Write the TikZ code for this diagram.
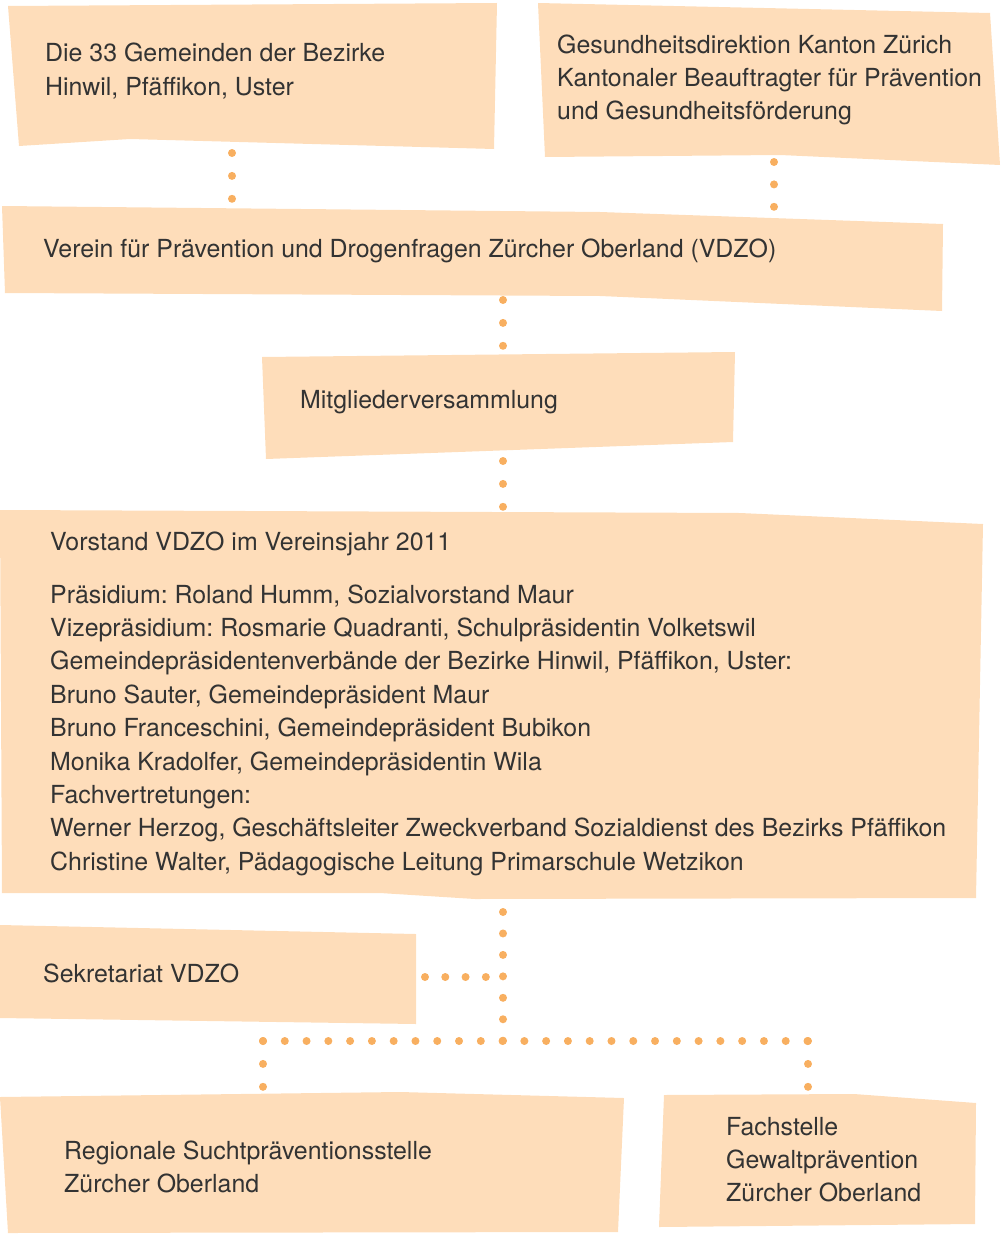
\documentclass[tikz,border=0pt]{standalone}
\usepackage{fontspec}
\setmainfont{TeX Gyre Heros}
\definecolor{boxfill}{HTML}{FEDDBA}
\definecolor{dotc}{HTML}{F8AF60}
\definecolor{txt}{HTML}{333333}
\begin{document}
\frenchspacing
\begin{tikzpicture}[x=1pt,y=-1pt,
  box/.style={fill=boxfill},
  lbl/.style={anchor=base west, inner sep=0pt, text=txt, font=\fontsize{24.9}{33.4}\selectfont, align=left},
  dots/.style={draw=dotc, line width=8pt, line cap=round, dash pattern=on 0pt off #1},
]
\useasboundingbox (0,0) rectangle (1002,1236);
% boxes
\fill[box] (8,6) -- (497,3) -- (494,149) -- (130,139) -- (19,146) -- cycle;
\fill[box] (538,3) -- (990,13) -- (1000,165) -- (780,155) -- (545,157) -- cycle;
\fill[box] (2,206) -- (600,212) -- (943,224) -- (942,311) -- (600,296) -- (5,293) -- cycle;
\fill[box] (262,357) -- (735,352) -- (733,442) -- (266,459) -- cycle;
\fill[box] (0,510) -- (740,513) -- (983,524) -- (976,898) -- (475,899) -- (380,893) -- (2,893) -- cycle;
\fill[box] (0,925) -- (416,934) -- (416,1024) -- (0,1018) -- cycle;
\fill[box] (0,1097) -- (400,1092) -- (624,1098) -- (618,1232) -- (8,1233) -- cycle;
\fill[box] (664,1095) -- (854,1094) -- (976,1103) -- (975,1224) -- (659,1227) -- cycle;
% texts (base anchor = baseline of the last line)
\node[lbl] (gem) at (45,95.4) {Die 33 Gemeinden der Bezirke\\Hinwil, Pfäffikon, Uster};
\node[lbl] (ges) at (557,119.8) {Gesundheitsdirektion Kanton Zürich\\Kantonaler Beauftragter für Prävention\\und Gesundheitsförderung};
\node[lbl] (ver) at (43,257) {Verein für Prävention und Drogenfragen Zürcher Oberland (VDZO)};
\node[lbl] (mit) at (300,408) {Mitgliederversammlung};
\node[lbl] (vor) at (50,550) {Vorstand VDZO im Vereinsjahr 2011};
\node[lbl] (vorl) at (50,870.2) {Präsidium: Roland Humm, Sozialvorstand Maur\\
Vizepräsidium: Rosmarie Quadranti, Schulpräsidentin Volketswil\\
Gemeindepräsidentenverbände der Bezirke Hinwil, Pfäffikon, Uster:\\
Bruno Sauter, Gemeindepräsident Maur\\
Bruno Franceschini, Gemeindepräsident Bubikon\\
Monika Kradolfer, Gemeindepräsidentin Wila\\
Fachvertretungen:\\
Werner Herzog, Geschäftsleiter Zweckverband Sozialdienst des Bezirks Pfäffikon\\
Christine Walter, Pädagogische Leitung Primarschule Wetzikon};
\node[lbl] (sek) at (43,982) {Sekretariat VDZO};
\node[lbl] (reg) at (64,1192.4) {Regionale Suchtpräventionsstelle\\Zürcher Oberland};
\node[lbl] (fach) at (726,1201.8) {Fachstelle\\Gewaltprävention\\Zürcher Oberland};
% connector points
\coordinate (a1) at (232,153); \coordinate (a2) at (232,199);
\coordinate (b1) at (774,162); \coordinate (b2) at (774,207);
\coordinate (c1) at (503,300); \coordinate (c2) at (503,346);
\coordinate (d1) at (503,461); \coordinate (d2) at (503,507);
\coordinate (e1) at (503,912); \coordinate (e2) at (503,1041);
\coordinate (s1) at (425,977); \coordinate (s2) at (486,977);
\coordinate (h1) at (263,1041); \coordinate (h2) at (808,1041);
\coordinate (r2) at (263,1087); \coordinate (f2) at (808,1087);
\draw[dots=22.9pt] (a1) -- (a2);
\draw[dots=22.4pt] (b1) -- (b2);
\draw[dots=22.9pt] (c1) -- (c2);
\draw[dots=22.9pt] (d1) -- (d2);
\draw[dots=21.45pt] (e1) -- (e2);
\draw[dots=20.28pt] (s1) -- (s2);
\draw[dots=21.78pt] (h1) -- (h2);
\draw[dots=22.9pt] (h1) -- (r2);
\draw[dots=22.9pt] (h2) -- (f2);
\end{tikzpicture}
\end{document}
